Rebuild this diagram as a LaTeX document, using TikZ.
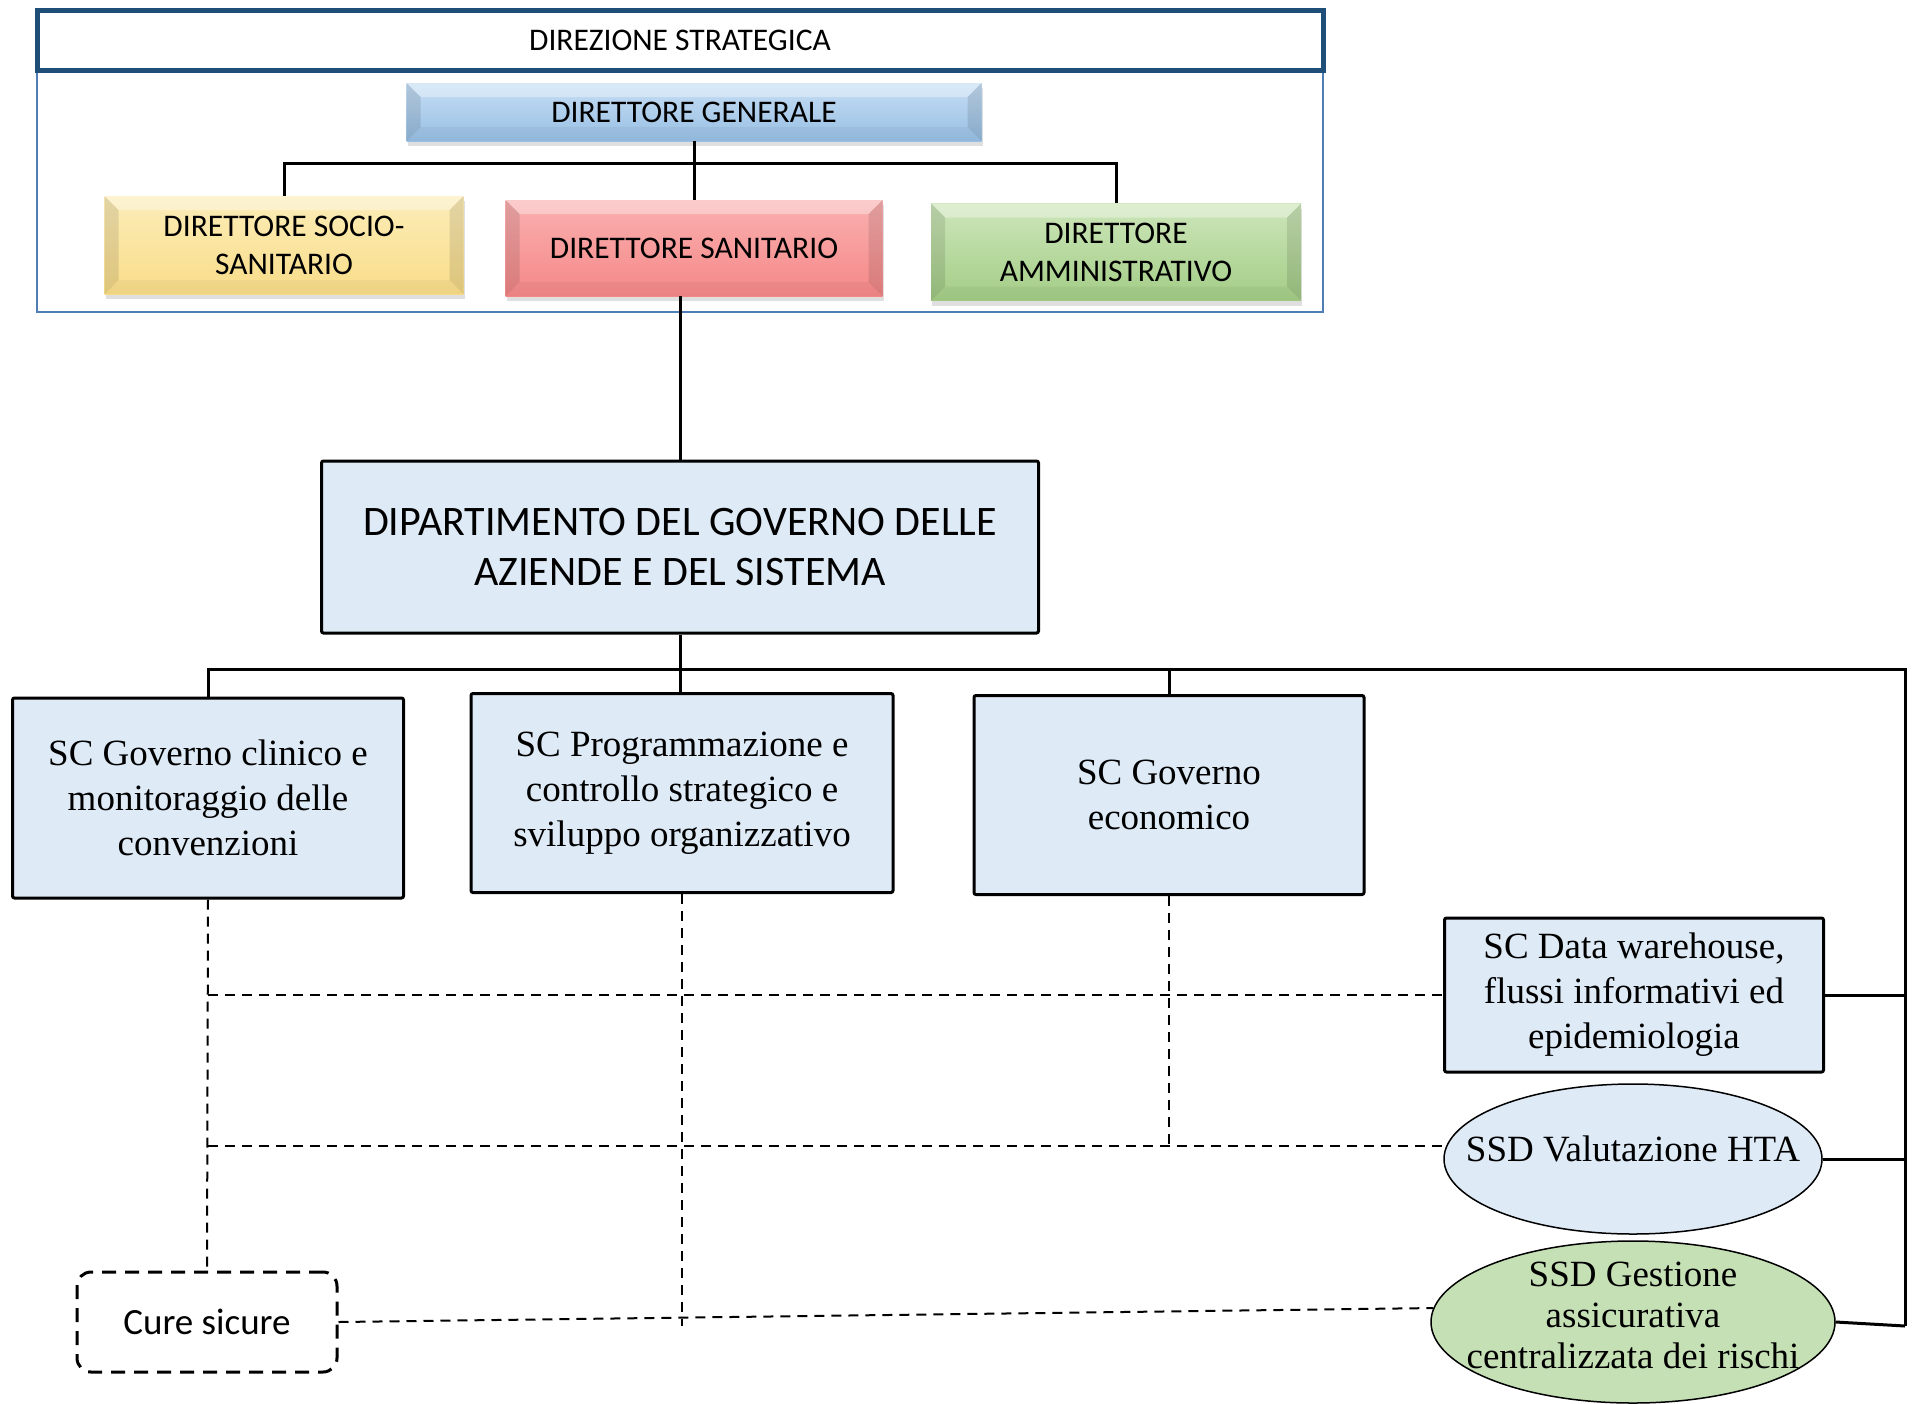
\documentclass[tikz,border=0pt]{standalone}
\usepackage{fontspec}
\setmainfont{Liberation Serif}
\newfontfamily\calib{Carlito}
\usepackage{tikz}
\usetikzlibrary{positioning,shapes.geometric,shadows}
\definecolor{dsblue}{HTML}{1F4E79}
\definecolor{frameblue}{HTML}{4F7DB5}
\definecolor{unitfill}{HTML}{DEEAF6}
\definecolor{gestfill}{HTML}{C5E0B4}
\definecolor{dgtop}{HTML}{C6DEF4}
\definecolor{dgbot}{HTML}{98BFE4}
\definecolor{sstop}{HTML}{FCEDB8}
\definecolor{ssbot}{HTML}{F8DC88}
\definecolor{santop}{HTML}{FAB0B0}
\definecolor{sanbot}{HTML}{F58888}
\definecolor{amtop}{HTML}{CDE6BA}
\definecolor{ambot}{HTML}{A3CD86}
\tikzset{dbox/.style={rectangle,inner sep=0pt,align=center,
	   font=\calib\fontsize{31.5}{38}\selectfont,
	   drop shadow={shadow xshift=1pt,shadow yshift=-5pt,opacity=0.25},
	   path picture={
	     \fill[white,opacity=.35] (path picture bounding box.north west) -- (path picture bounding box.north east)
	       -- ([shift={(-14pt,-14pt)}]path picture bounding box.north east) -- ([shift={(14pt,-14pt)}]path picture bounding box.north west) -- cycle;
	     \fill[black,opacity=.10] (path picture bounding box.north west) -- ([shift={(14pt,-14pt)}]path picture bounding box.north west)
	       -- ([shift={(14pt,14pt)}]path picture bounding box.south west) -- (path picture bounding box.south west) -- cycle;
	     \fill[black,opacity=.10] (path picture bounding box.north east) -- ([shift={(-14pt,-14pt)}]path picture bounding box.north east)
	       -- ([shift={(-14pt,14pt)}]path picture bounding box.south east) -- (path picture bounding box.south east) -- cycle;
	     \fill[black,opacity=.04] (path picture bounding box.south west) -- (path picture bounding box.south east)
	       -- ([shift={(-14pt,14pt)}]path picture bounding box.south east) -- ([shift={(14pt,14pt)}]path picture bounding box.south west) -- cycle;}},
	 ubox/.style={rectangle,draw,line width=3pt,rounded corners=2pt,fill=unitfill,inner sep=0pt,align=center,
	   font=\fontsize{37}{45}\selectfont},
	 ssd/.style={ellipse,draw,line width=1.5pt,inner xsep=-40pt,inner ysep=-12pt,align=center,font=\fontsize{37}{41}\selectfont},
	 conn/.style={line width=3pt},
	 dashln/.style={line width=2pt,dash pattern=on 10pt off 7pt}
	 }

\begin{document}
\begin{tikzpicture}[x=1pt,y=-1pt] % direzione strategica / dipartimento
	\useasboundingbox (0,0) rectangle (1921,1403);
	\draw[frameblue,line width=1.5pt] (37,70) rectangle (1323,312);
	\node[draw=dsblue,fill=white,line width=5pt,minimum width=1286pt,minimum height=60pt,inner sep=0pt,
	      font=\calib\fontsize{31.5}{38}\selectfont] (ds) at (680,40) {DIREZIONE STRATEGICA};
	\node[dbox,top color=dgtop,bottom color=dgbot,minimum width=575pt,minimum height=58pt] (dg) at (694,112) {DIRETTORE GENERALE};
	\node[dbox,top color=sstop,bottom color=ssbot,minimum width=359pt,minimum height=98pt] (dss) at (284,245) {DIRETTORE SOCIO-\\SANITARIO};
	\node[dbox,top color=santop,bottom color=sanbot,minimum width=377pt,minimum height=96pt] (dsan) at (694,248) {DIRETTORE SANITARIO};
	\node[dbox,top color=amtop,bottom color=ambot,minimum width=370pt,minimum height=97pt] (da) at (1116,252) {DIRETTORE\\AMMINISTRATIVO};
	\draw[conn] (dg.south) -- (dsan.north);
	\draw[conn] (dss.north) -- ++(0,-32) -| (da.north);

	\node[ubox,minimum width=717pt,minimum height=172pt,font=\calib\fontsize{42}{50}\selectfont] (dip) at (680,547)
	  {DIPARTIMENTO DEL GOVERNO DELLE\\AZIENDE E DEL SISTEMA};
	\draw[conn] (dsan.south -| dip.north) -- (dip.north);

	\node[ubox,minimum width=391pt,minimum height=200pt] (gc) at (208,798) {SC Governo clinico e\\monitoraggio delle\\convenzioni};
	\node[ubox,minimum width=422pt,minimum height=199pt] (prog) at (682,793) {SC Programmazione e\\controllo strategico e\\sviluppo organizzativo};
	\node[ubox,minimum width=390pt,minimum height=199pt] (ge) at (1169,795) {SC Governo\\economico};
	\node[ubox,minimum width=379pt,minimum height=154pt] (dw) at (1634,995) {SC Data warehouse,\\flussi informativi ed\\epidemiologia};
	\node[ssd,fill=unitfill,minimum width=378pt,minimum height=150pt,text depth=20pt] (hta) at (1633,1159) {SSD Valutazione HTA};
	\node[ssd,fill=gestfill,minimum width=404pt,minimum height=162pt,text depth=14pt] (gest) at (1633,1322) {SSD Gestione\\assicurativa\\centralizzata dei rischi};
	\node[draw,line width=3pt,dash pattern=on 14pt off 9pt,rounded corners=14pt,minimum width=260pt,minimum height=100pt,
	      font=\calib\fontsize{37}{44}\selectfont] (cure) at (207,1322) {Cure sicure};

	\coordinate (rt) at (1905,669);
	\coordinate (rb) at (1905,1326);
	\draw[conn] (dip.south) -- (dip.south |- prog.north);
	\draw[conn] (gc.north) |- (rt) -- (rb);
	\draw[conn] (ge.north) -- (ge.north |- rt);
	\draw[conn] (dw.east) -- (dw.east -| rt);
	\draw[conn] (hta.east) -- ++(82,0);
	\draw[conn] (gest.east) -- (rb);

	\draw[dashln] (gc.south) -- (cure.north);
	\draw[dashln] (prog.south) -- (prog.south |- rb);
	\draw[dashln] (ge.south) -- (ge.south |- hta.176);
	\draw[dashln] (gc.south |- dw.west) -- (dw.west);
	\draw[dashln] (gc.south |- hta.176) -- (hta.176);
	\draw[dashln] (cure.east) -- (gest.176);
\end{tikzpicture}
\end{document}
